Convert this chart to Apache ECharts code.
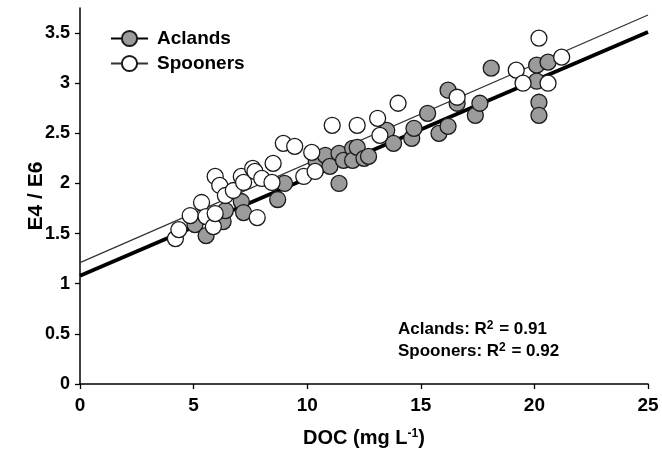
<!DOCTYPE html>
<html>
<head>
<meta charset="utf-8">
<script src="https://cdn.jsdelivr.net/npm/echarts@6/dist/echarts.min.js"></script>
<style>
  html, body { margin: 0; padding: 0; background: #fff; }
  #chart { width: 662px; height: 452px; }
</style>
</head>
<body>
<div id="chart"></div>
<script>
// DOC (mg/L) and E4/E6 ratio, Aclands site
const aclandsDOC = [5.06, 5.55, 6.3, 6.4, 7.1, 7.2, 8.7, 9.0, 10.4, 10.8, 11.0, 11.4, 11.6, 12.0, 12.0, 12.2, 12.5, 12.7, 11.4, 13.5, 13.8, 14.6, 14.7, 15.3, 15.8, 16.2, 16.2, 16.6, 17.4, 17.6, 18.1, 20.1, 20.1, 20.6, 20.2, 20.2];
const aclandsE4E6 = [1.59, 1.48, 1.62, 1.73, 1.82, 1.71, 1.84, 2.0, 2.22, 2.28, 2.17, 2.3, 2.23, 2.35, 2.23, 2.36, 2.25, 2.27, 2.0, 2.53, 2.4, 2.45, 2.55, 2.7, 2.5, 2.57, 2.93, 2.8, 2.68, 2.8, 3.15, 3.18, 3.02, 3.21, 2.81, 2.68];

// DOC (mg/L) and E4/E6 ratio, Spooners site
const spoonersDOC = [4.2, 4.35, 4.85, 5.35, 5.55, 5.87, 5.95, 5.95, 6.15, 6.4, 6.75, 7.1, 7.2, 7.6, 7.7, 7.8, 8.0, 8.45, 8.5, 8.95, 9.45, 9.85, 10.2, 10.35, 11.1, 12.2, 13.1, 13.2, 14.0, 16.6, 19.2, 19.5, 20.6, 21.2, 20.2];
const spoonersE4E6 = [1.45, 1.54, 1.68, 1.81, 1.67, 1.57, 1.70, 2.07, 1.98, 1.88, 1.93, 2.07, 2.01, 2.15, 2.12, 1.66, 2.05, 2.01, 2.2, 2.4, 2.37, 2.07, 2.31, 2.12, 2.58, 2.58, 2.65, 2.48, 2.8, 2.86, 3.13, 3.0, 3.0, 3.26, 3.45];

// Linear fits: [intercept, slope]
const aclandsFit = [1.08, 0.0972];
const spoonersFit = [1.21, 0.0988];
const fitRange = [0, 25];

const xTicks = [0, 5, 10, 15, 20, 25];
const yTicks = [0, 0.5, 1, 1.5, 2, 2.5, 3, 3.5];

const seriesNames = ['Aclands', 'Spooners'];
const r2Values = ['0.91', '0.92'];

const zip = (xs, ys) => xs.map((x, i) => [x, ys[i]]);
const fitLine = (f) => fitRange.map(x => [x, f[0] + f[1] * x]);

const FONT = 'Liberation Sans, Arial, sans-serif';
const GRAY = '#9b9b9b';
const EDGE = '#1a1a1a';

const chart = echarts.init(document.getElementById('chart'), null, { renderer: 'canvas' });

chart.setOption({
  animation: false,
  backgroundColor: '#fff',
  grid: { left: 80, right: 14, top: 8, bottom: 68, outerBoundsMode: 'none' },
  legend: {
    data: seriesNames,
    orient: 'vertical',
    left: 110,
    top: 29,
    padding: 0,
    itemWidth: 37,
    itemHeight: 19,
    itemGap: 6,
    textStyle: { fontFamily: FONT, fontSize: 19, fontWeight: 'bold', color: '#000', padding: [0, 0, 0, 4] },
    selectedMode: false
  },
  xAxis: {
    type: 'value',
    min: 0,
    max: 25,
    interval: 5,
    name: '{a|DOC (mg L}{s|-1}{a|)}',
    nameLocation: 'middle',
    nameGap: 44,
    nameMoveOverlap: false,
    nameTextStyle: {
      rich: {
        a: { fontFamily: FONT, fontSize: 20, fontWeight: 'bold', color: '#000' },
        s: { fontFamily: FONT, fontSize: 12, fontWeight: 'bold', color: '#000', verticalAlign: 'top', padding: [0, 0, 9, 0] }
      }
    },
    splitLine: { show: false },
    axisLine: { lineStyle: { color: '#000', width: 1.5 } },
    axisTick: { inside: false, length: 5, lineStyle: { color: '#000', width: 1.3 }, customValues: xTicks },
    axisLabel: { fontFamily: FONT, fontSize: 19, fontWeight: 'bold', color: '#000', margin: 12, customValues: xTicks }
  },
  yAxis: {
    type: 'value',
    min: 0,
    max: 3.75,
    name: 'E4 / E6',
    nameLocation: 'middle',
    nameGap: 33,
    nameMoveOverlap: false,
    nameRotate: 90,
    nameTextStyle: { fontFamily: FONT, fontSize: 21, color: '#000', fontWeight: 'bold' },
    splitLine: { show: false },
    axisLine: { lineStyle: { color: '#000', width: 1.5 } },
    axisTick: { inside: false, length: 5, lineStyle: { color: '#000', width: 1.3 }, customValues: yTicks },
    axisLabel: { fontFamily: FONT, fontSize: 18, fontWeight: 'bold', color: '#000', margin: 10, customValues: yTicks }
  },
  series: [
    {
      name: seriesNames[0],
      type: 'line',
      data: fitLine(aclandsFit),
      symbol: 'circle',
      symbolSize: 15,
      showSymbol: false,
      itemStyle: { color: GRAY, borderColor: EDGE, borderWidth: 1.3 },
      lineStyle: { color: '#000', width: 3.8 },
      silent: true,
      z: 1
    },
    {
      name: seriesNames[1],
      type: 'line',
      data: fitLine(spoonersFit),
      symbol: 'circle',
      symbolSize: 15,
      showSymbol: false,
      itemStyle: { color: '#fff', borderColor: EDGE, borderWidth: 1.3 },
      lineStyle: { color: '#333', width: 1.3 },
      silent: true,
      z: 1
    },
    {
      name: seriesNames[0],
      type: 'scatter',
      data: zip(aclandsDOC, aclandsE4E6),
      symbol: 'circle',
      symbolSize: 16,
      itemStyle: { color: GRAY, borderColor: EDGE, borderWidth: 1.3, opacity: 1 },
      z: 3
    },
    {
      name: seriesNames[1],
      type: 'scatter',
      data: zip(spoonersDOC, spoonersE4E6),
      symbol: 'circle',
      symbolSize: 16,
      itemStyle: { color: '#fff', borderColor: EDGE, borderWidth: 1.3, opacity: 1 },
      z: 4
    }
  ],
  graphic: seriesNames.map((n, i) => ({
    type: 'text',
    left: 398,
    top: 320 + i * 22,
    style: {
      text: '{a|' + n + ': R}{s|2}{a| = ' + r2Values[i] + '}',
      rich: {
        a: { fontFamily: FONT, fontSize: 17, fontWeight: 'bold', fill: '#000' },
        s: { fontFamily: FONT, fontSize: 12, fontWeight: 'bold', fill: '#000', verticalAlign: 'top', padding: [0, 1, 7, 0] }
      }
    }
  }))
});
</script>
</body>
</html>
